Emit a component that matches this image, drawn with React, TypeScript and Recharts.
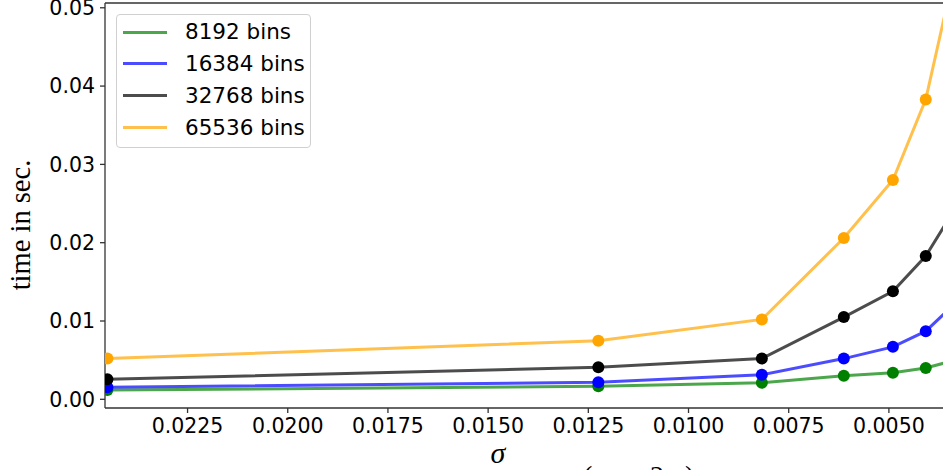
import React from "react";
import { LineChart, Line, XAxis, YAxis, ReferenceLine, Legend } from "recharts";

// σ values (x) and run times in seconds per bin count
const sigma = [0.0245, 0.01225, 0.00817, 0.006125, 0.0049, 0.00408, 0.0035];
const bins8192 = [0.00119, 0.00166, 0.0021, 0.003, 0.0034, 0.004, 0.0048];
const bins16384 = [0.00153, 0.00217, 0.00314, 0.0052, 0.0067, 0.0087, 0.0115];
const bins32768 = [0.00255, 0.0041, 0.0052, 0.0105, 0.0138, 0.0183, 0.0231];
const bins65536 = [0.0052, 0.00748, 0.0102, 0.0206, 0.028, 0.0383, 0.0515];

const xTicks = [0.0225, 0.02, 0.0175, 0.015, 0.0125, 0.01, 0.0075, 0.005];
const yTicks = [0, 0.01, 0.02, 0.03, 0.04, 0.05];

const X_DOMAIN: [number, number] = [0.00365, 0.02456];
const Y_DOMAIN: [number, number] = [-0.00111, 0.05061];

const series = [
  { key: "b8192", name: "8192 bins", color: "#008000", values: bins8192 },
  { key: "b16384", name: "16384 bins", color: "#0000ff", values: bins16384 },
  { key: "b32768", name: "32768 bins", color: "#000000", values: bins32768 },
  { key: "b65536", name: "65536 bins", color: "#ffa500", values: bins65536 },
];

const data = sigma.map((s, i) => {
  const row: Record<string, number> = { sigma: s };
  series.forEach((sr) => {
    row[sr.key] = sr.values[i];
  });
  return row;
});

const SANS = "'DejaVu Sans', sans-serif";
const SERIF = "'Liberation Serif', 'Times New Roman', serif";
const SPINE = "#333";

const LegendBox = () => (
  <div
    style={{
      position: "absolute",
      left: 0,
      top: 0,
      width: 195,
      height: 134,
      boxSizing: "border-box",
      border: "1px solid #d0d0d0",
      borderRadius: 4,
      background: "rgba(255,255,255,0.8)",
      fontFamily: SANS,
      fontSize: 21.5,
      color: "#000",
    }}
  >
    {series.map((s, i) => (
      <div
        key={s.key}
        style={{
          position: "absolute",
          left: 0,
          top: 17 + 31.9 * i - 11,
          height: 22,
          width: 195,
        }}
      >
        <div
          style={{
            position: "absolute",
            left: 6,
            top: 9.5,
            width: 44,
            height: 3,
            background: s.color,
            opacity: 0.7,
          }}
        />
        <div
          style={{
            position: "absolute",
            left: 68,
            top: 0,
            lineHeight: "22px",
            whiteSpace: "nowrap",
          }}
        >
          {s.name}
        </div>
      </div>
    ))}
  </div>
);

const YLabel = () => {
  const cx = 20;
  const cy = 225;
  return (
    <text
      x={cx}
      y={cy}
      transform={`rotate(-90, ${cx}, ${cy})`}
      textAnchor="middle"
      dominantBaseline="central"
      fontFamily={SERIF}
      fontSize={28.5}
      fill="#000"
    >
      time in sec.
    </text>
  );
};

const XLabel = () => (
  <g fontFamily={SERIF} fill="#000">
    <text x={498} y={463} textAnchor="middle" fontSize={30} fontStyle="italic">
      σ
    </text>
    <text fontSize={28} y={485}>
      <tspan x={583}>(</tspan>
      <tspan x={650}>2</tspan>
      <tspan x={685}>)</tspan>
    </text>
  </g>
);

export default function App() {
  return (
    <div
      style={{
        position: "absolute",
        left: 0,
        top: 0,
        width: 943,
        height: 470,
        overflow: "hidden",
        background: "#fff",
      }}
    >
      <LineChart
        width={943}
        height={470}
        data={data}
        margin={{ top: 3, right: 0, bottom: 0, left: 0 }}
      >
        <XAxis
          dataKey="sigma"
          type="number"
          reversed
          domain={X_DOMAIN}
          allowDataOverflow
          ticks={xTicks}
          interval={0}
          tickFormatter={(v: number) => v.toFixed(4)}
          height={62}
          tickSize={5}
          tickMargin={5}
          axisLine={{ stroke: SPINE, strokeWidth: 1.3 }}
          tickLine={{ stroke: SPINE, strokeWidth: 1.3 }}
          tick={{ fontFamily: SANS, fontSize: 20.5, fill: "#000" }}
          label={<XLabel />}
        />
        <YAxis
          type="number"
          domain={Y_DOMAIN}
          allowDataOverflow
          ticks={yTicks}
          interval={0}
          tickFormatter={(v: number) => v.toFixed(2)}
          width={105}
          tickSize={5}
          tickMargin={5}
          axisLine={{ stroke: SPINE, strokeWidth: 1.3 }}
          tickLine={{ stroke: SPINE, strokeWidth: 1.3 }}
          tick={{ fontFamily: SANS, fontSize: 20.5, fill: "#000" }}
          label={<YLabel />}
        />
        <ReferenceLine y={Y_DOMAIN[1]} stroke={SPINE} strokeWidth={1.3} />
        {series.map((s) => (
          <Line
            key={s.key}
            dataKey={s.key}
            name={s.name}
            type="linear"
            stroke={s.color}
            strokeOpacity={0.7}
            strokeWidth={3}
            dot={{ r: 6, fill: s.color, stroke: "none", strokeOpacity: 1, clipDot: true }}
            activeDot={false}
            isAnimationActive={false}
          />
        ))}
        <Legend
          layout="vertical"
          align="center"
          verticalAlign="middle"
          wrapperStyle={{ left: 116, top: 14, width: 195, height: 134 }}
          content={() => <LegendBox />}
        />
      </LineChart>
    </div>
  );
}
